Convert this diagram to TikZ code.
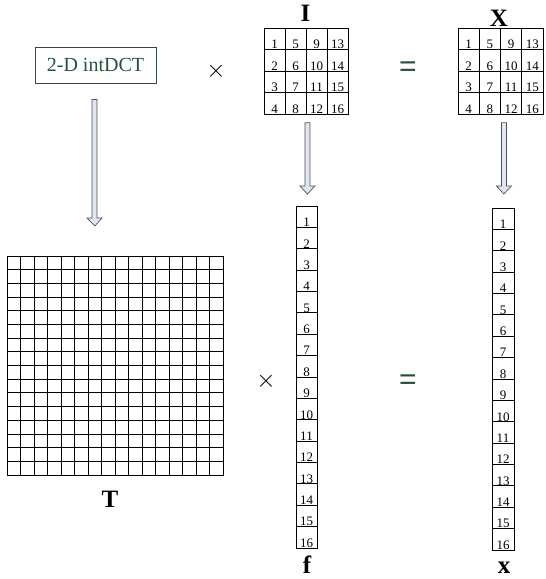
\documentclass[tikz,border=0pt]{standalone}
\usepackage{fontspec}
\setmainfont{Liberation Serif}
\newfontfamily\sansf{Liberation Sans}
\usetikzlibrary{calc}
\definecolor{dgreen}{RGB}{40,82,55}
\definecolor{arrfill}{RGB}{224,230,240}
\definecolor{arrline}{RGB}{80,80,90}
\newcommand{\blockarrow}[2]{%
  \path let \p1=(#1), \p2=(#2) in [draw=arrline, fill=arrfill, line width=0.7pt, line join=miter]
    (\x1-2.5pt,\y1) -- (\x1+2.5pt,\y1) -- (\x1+2.5pt,\y2+8pt) -- (\x1+7.5pt,\y2+8pt)
    -- (\x2,\y2) -- (\x1-7.5pt,\y2+8pt) -- (\x1-2.5pt,\y2+8pt) -- cycle;}
\tikzset{
  gridbox/.style={draw, line width=0.8pt, inner sep=0pt, anchor=north west},
  gline/.style={line width=0.8pt},
  num/.style={font=\fontsize{13}{13}\selectfont, anchor=base, inner sep=0pt},
  biglabel/.style={font=\fontsize{25}{25}\selectfont\bfseries, inner sep=0pt},
  opx/.style={font=\fontsize{32}{32}\selectfont, inner sep=0pt},
  opeq/.style={font=\sansf\fontsize{30}{30}\selectfont, text=dgreen, inner sep=0pt},
}
\begin{document}
\begin{tikzpicture}[x=1pt,y=-1pt]
\useasboundingbox[fill=white] (0,0) rectangle (546,579);

% 2-D intDCT box
\node[draw=dgreen, line width=0.8pt, text=dgreen, minimum width=121pt, minimum height=36pt,
      inner sep=0pt, font=\fontsize{20}{20}\selectfont] (dct) at (95.5,65) {2-D intDCT};

% T grid 16x16
\node[gridbox, minimum width=216pt, minimum height=219pt] (T) at (7,256) {};
\foreach \i in {1,...,15}{
  \draw[gline] ($(T.north west)+(\i*13.5,0)$) -- ++(0,219);
  \draw[gline] ($(T.north west)+(0,\i*13.6875)$) -- ++(216,0);
}
\node[biglabel] (Tl) at (110,499) {T};

% I grid 4x4
\node[gridbox, minimum width=84pt, minimum height=86pt] (I) at (264,28) {};
\foreach \i in {1,2,3}{
  \draw[gline] ($(I.north west)+(\i*21,0)$) -- ++(0,86);
  \draw[gline] ($(I.north west)+(0,\i*21.5)$) -- ++(84,0);
}
\foreach \c in {0,1,2,3}{
  \foreach \r in {0,1,2,3}{
    \pgfmathtruncatemacro{\v}{\c*4+\r+1}
    \node[num] (I\v) at ($(I.north west)+(\c*21+10.5,\r*21.5+20.8)$) {\v};
  }
}
\node[biglabel] (Il) at (305.5,13) {I};

% X grid 4x4
\node[gridbox, minimum width=85pt, minimum height=86pt] (X) at (458,28) {};
\foreach \i in {1,2,3}{
  \draw[gline] ($(X.north west)+(\i*21.25,0)$) -- ++(0,86);
  \draw[gline] ($(X.north west)+(0,\i*21.5)$) -- ++(85,0);
}
\foreach \c in {0,1,2,3}{
  \foreach \r in {0,1,2,3}{
    \pgfmathtruncatemacro{\v}{\c*4+\r+1}
    \node[num] (X\v) at ($(X.north west)+(\c*21.25+10.6,\r*21.5+20.8)$) {\v};
  }
}
\node[biglabel] (Xl) at (499,18) {X};

% f column
\node[gridbox, minimum width=21pt, minimum height=342pt] (f) at (296,206) {};
\foreach \i in {1,...,15}{
  \draw[gline] ($(f.north west)+(0,\i*21.375)$) -- ++(21,0);
}
\foreach \r in {1,...,16}{
  \node[num] (f\r) at ($(f.north west)+(10.5,\r*21.375-0.7)$) {\r};
}
\node[biglabel, anchor=base] (fl) at (307,573) {f};

% x column
\node[gridbox, minimum width=22pt, minimum height=342pt] (x) at (492,208) {};
\foreach \i in {1,...,15}{
  \draw[gline] ($(x.north west)+(0,\i*21.375)$) -- ++(22,0);
}
\foreach \r in {1,...,16}{
  \node[num] (x\r) at ($(x.north west)+(11,\r*21.375-0.7)$) {\r};
}
\node[biglabel, anchor=base] (xl) at (504,573) {x};

% operators
\node[opx] (m1) at (216,71) {$\times$};
\node[opx] (m2) at (266,381) {$\times$};
\node[opeq] (e1) at (408,69) {=};
\node[opeq] (e2) at (408,382) {=};

% block arrows
\coordinate (a1s) at ($(dct.south)+(-1,16)$);
\coordinate (a1e) at ($(T.north)+(-20.5,-30)$);
\blockarrow{a1s}{a1e}
\coordinate (a2s) at ($(I.south)+(1,8)$);
\coordinate (a2e) at ($(f.north)+(0.5,-12)$);
\blockarrow{a2s}{a2e}
\coordinate (a3s) at ($(X.south)+(3,8)$);
\coordinate (a3e) at ($(x.north)+(0.5,-14)$);
\blockarrow{a3s}{a3e}
\end{tikzpicture}
\end{document}
